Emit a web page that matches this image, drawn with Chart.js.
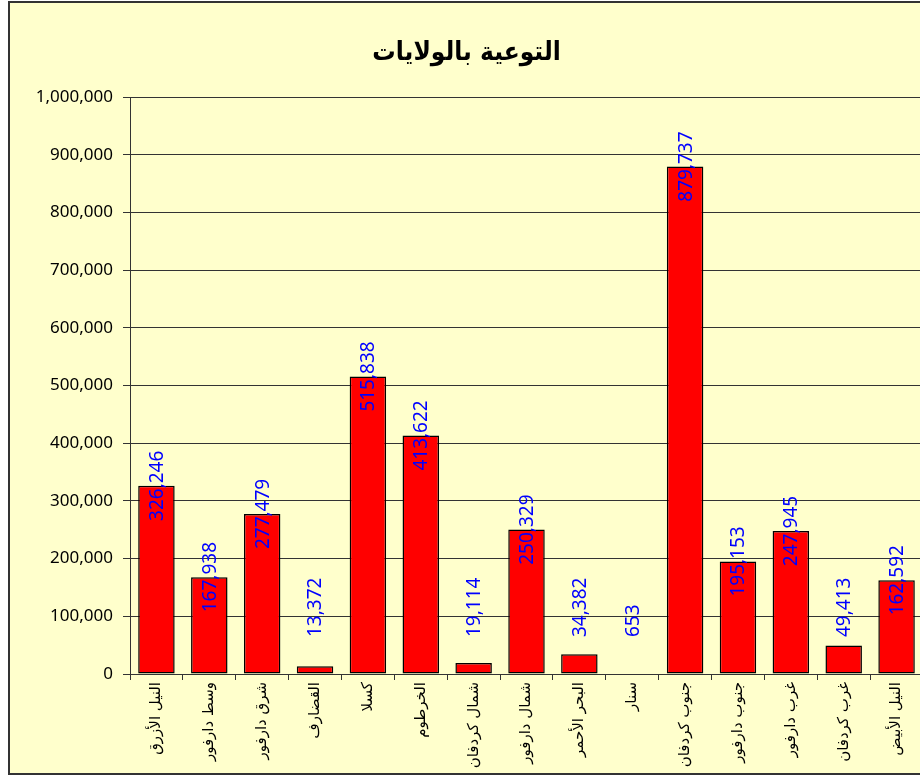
<!DOCTYPE html>
<html><head><meta charset="utf-8">
<script src="https://cdn.jsdelivr.net/npm/chart.js@4.4.1/dist/chart.umd.min.js"></script>
<style>
html,body{margin:0;padding:0;width:920px;height:776px;overflow:hidden;background:#fff;}
#frame{position:absolute;left:8px;top:1px;width:940px;height:770px;border:2px solid #333;background:#ffffcc;}
#wrap{position:absolute;left:0;top:0;width:926px;height:770px;}
</style></head><body>
<div id="frame"><div id="wrap"><canvas id="c"></canvas></div></div>
<script>
const chartTitle = 'التوعية بالولايات';
const states = ['النيل الأزرق','وسط دارفور','شرق دارفور','القضارف','كسلا','الخرطوم','شمال كردفان','شمال دارفور','البحر الأحمر','سنار','جنوب كردفان','جنوب دارفور','غرب دارفور','غرب كردفان','النيل الأبيض'];
const awareness = [326246,167938,277479,13372,515838,413622,19114,250329,34382,653,879737,195153,247945,49413,162592];
const yTicks = [0,100000,200000,300000,400000,500000,600000,700000,800000,900000,1000000];

const fmt = v => Number(v).toLocaleString('en-US');

const labelPlugin = {
  id: 'vlabels',
  afterDatasetsDraw(chart) {
    const ctx = chart.ctx;
    const meta = chart.getDatasetMeta(0);
    const ys = chart.scales.y;
    const base = ys.getPixelForValue(0);
    ctx.save();
    ctx.font = '19px "Noto Sans", sans-serif';
    ctx.fillStyle = '#0000ff';
    ctx.textAlign = 'center';
    ctx.textBaseline = 'middle';
    meta.data.forEach((bar, i) => {
      const txt = fmt(awareness[i]);
      const w = ctx.measureText(txt).width;
      let cy = ys.getPixelForValue(awareness[i]);
      const maxCy = base - 37 - w / 2;
      if (cy > maxCy) cy = maxCy;
      ctx.save();
      ctx.translate(bar.x, cy);
      ctx.rotate(-Math.PI / 2);
      ctx.fillText(txt, 0, 1);
      ctx.restore();
    });
    ctx.restore();
  }
};

new Chart(document.getElementById('c'), {
  type: 'bar',
  data: {
    labels: states,
    datasets: [{
      data: awareness,
      backgroundColor: '#ff0000',
      borderColor: '#000000',
      borderWidth: 1.5,
      borderSkipped: false,
      barPercentage: 0.69,
      categoryPercentage: 1.0
    }]
  },
  options: {
    responsive: true,
    maintainAspectRatio: false,
    animation: false,
    layout: { padding: { left: 0, right: 13, top: 0, bottom: 0 } },
    plugins: {
      legend: { display: false },
      tooltip: { enabled: false },
      title: {
        display: true,
        text: chartTitle,
        color: '#000',
        font: { family: '"DejaVu Sans Condensed", "DejaVu Sans", sans-serif', size: 26, weight: 'bold' },
        padding: { top: 35, bottom: 28 }
      }
    },
    scales: {
      x: {
        offset: true,
        grid: { drawOnChartArea: false, offset: true, tickLength: 6, color: '#333', lineWidth: 1 },
        border: { color: '#333', width: 1 },
        ticks: {
          autoSkip: false, maxRotation: 90, minRotation: 90, padding: 2,
          color: '#000', font: { family: '"DejaVu Sans", sans-serif', size: 15 }
        },
        afterFit: s => { s.height = 99; }
      },
      y: {
        min: 0, max: 1000000,
        afterBuildTicks: s => { s.ticks = yTicks.map(v => ({ value: v })); },
        grid: { color: '#333', lineWidth: 1, tickLength: 7 },
        border: { color: '#333', width: 1 },
        ticks: {
          padding: 10, color: '#000',
          font: { family: '"Noto Sans", sans-serif', size: 17 },
          callback: v => fmt(v)
        },
        afterFit: s => { s.width = 120; }
      }
    }
  },
  plugins: [labelPlugin]
});
</script>
</body></html>
